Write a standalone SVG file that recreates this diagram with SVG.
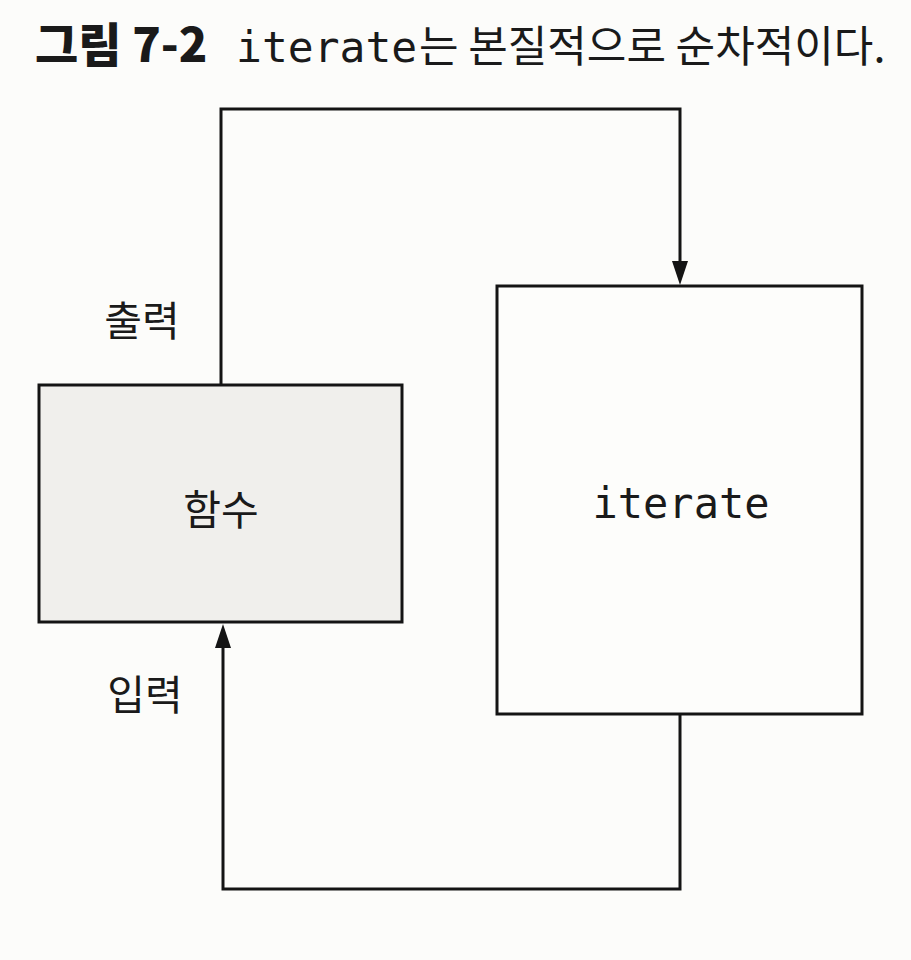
<svg xmlns="http://www.w3.org/2000/svg" width="911" height="960" viewBox="0 0 911 960">
  <style>
    .box { stroke: #141414; stroke-width: 3; }
    .conn { fill: none; stroke: #141414; stroke-width: 3; }
    .ko { font-family: "Noto Sans CJK KR", "Noto Sans", sans-serif; fill: #1a1a1a; }
    .mono { font-family: "DejaVu Sans Mono", "Liberation Mono", monospace; fill: #1a1a1a; }
  </style>
  <defs>
    <marker id="arrow" markerUnits="userSpaceOnUse" markerWidth="26" markerHeight="18" refX="12" refY="8" orient="auto">
      <path d="M0,0 L24,8 L0,16 z" fill="#141414"/>
    </marker>
  </defs>
  <rect x="0" y="0" width="911" height="960" fill="#fcfcfa"/>

  <g id="title">
    <text x="35" y="62" font-size="47" font-weight="900" class="ko">그림 7-2</text>
    <text x="236" y="62" font-size="43" class="mono">iterate</text>
    <text x="419" y="62" font-size="43" class="ko">는 본질적으로 순차적이다.</text>
  </g>

  <g id="connectors">
    <path class="conn" d="M221,384 L221,109 L680,109 L680,273" marker-end="url(#arrow)"/>
    <path class="conn" d="M680,714 L680,889 L223,889 L223,636" marker-end="url(#arrow)"/>
  </g>

  <g id="function">
    <rect class="box" x="39" y="385" width="363" height="237" fill="#f0efec"/>
    <text x="221" y="525" font-size="41" text-anchor="middle" class="ko">함수</text>
  </g>

  <g id="iterate">
    <rect class="box" x="497" y="286" width="365" height="428" fill="#fdfdfb"/>
    <text x="681" y="518" font-size="42" text-anchor="middle" class="mono">iterate</text>
  </g>

  <g id="label-output">
    <text x="142" y="336" font-size="41" text-anchor="middle" class="ko">출력</text>
  </g>
  <g id="label-input">
    <text x="145" y="710" font-size="41" text-anchor="middle" class="ko">입력</text>
  </g>
</svg>
